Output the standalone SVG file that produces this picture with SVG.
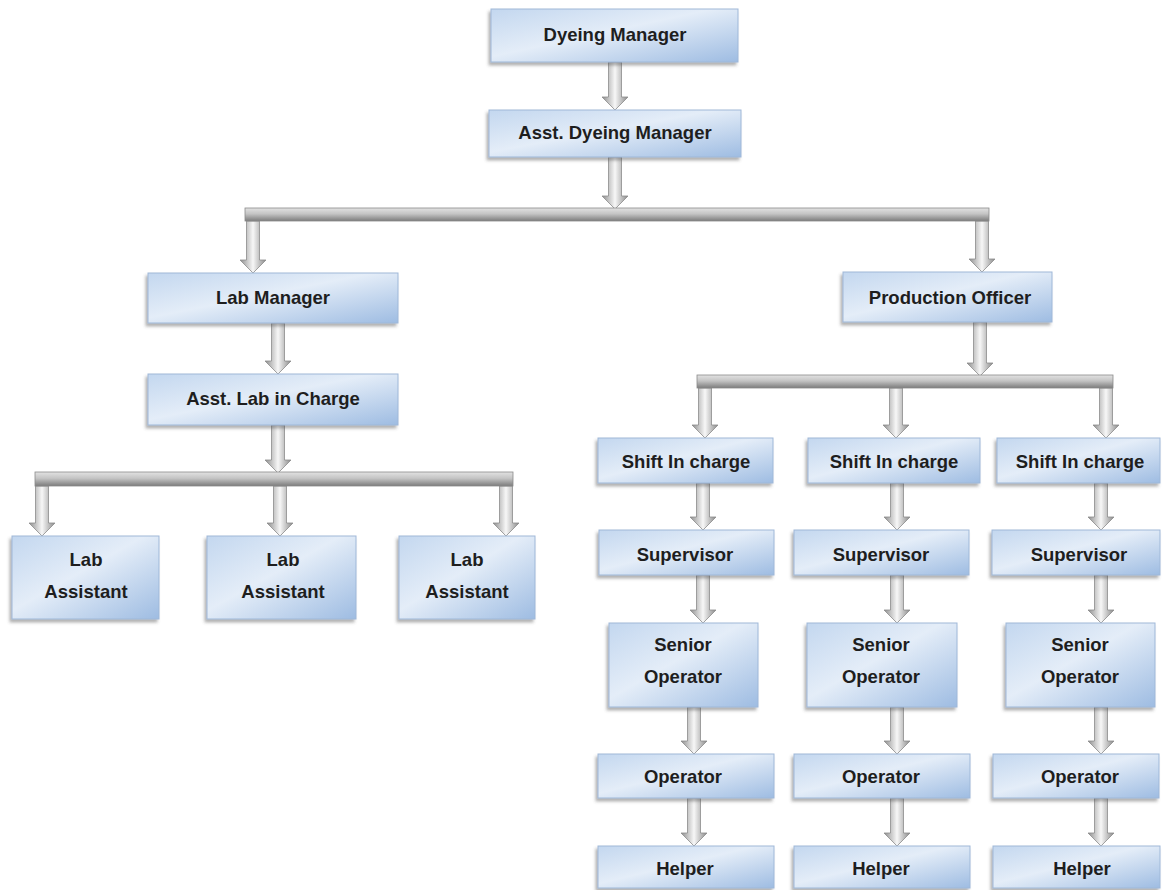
<svg xmlns="http://www.w3.org/2000/svg" width="1164" height="890" viewBox="0 0 1164 890">
  <style>
    .box { fill: url(#boxFill); stroke: #9fb8d8; stroke-width: 1; filter: url(#shadow); }
    .t { font-family: "Liberation Sans", Arial, sans-serif; font-weight: bold; font-size: 18.5px; text-anchor: middle; fill: #1e1e1e; }
    .arrow { fill: url(#arrowFill); stroke: #8c8c8c; stroke-width: 0.8; }
    .bar { fill: url(#barFill); stroke: #8a8a8a; stroke-width: 0.8; }
  </style>
  <defs>
    <linearGradient id="boxFill" x1="0" y1="0" x2="1" y2="1">
      <stop offset="0" stop-color="#c3d7ef"/>
      <stop offset="0.45" stop-color="#e4edf8"/>
      <stop offset="1" stop-color="#9ebce2"/>
    </linearGradient>
    <linearGradient id="arrowFill" x1="0" y1="0" x2="1" y2="0">
      <stop offset="0" stop-color="#8e8e8e"/>
      <stop offset="0.5" stop-color="#f7f7f7"/>
      <stop offset="1" stop-color="#8a8a8a"/>
    </linearGradient>
    <linearGradient id="barFill" x1="0" y1="0" x2="0" y2="1">
      <stop offset="0" stop-color="#e2e2e2"/>
      <stop offset="0.45" stop-color="#c4c4c4"/>
      <stop offset="1" stop-color="#7c7c7c"/>
    </linearGradient>
    <filter id="shadow" x="-10%" y="-20%" width="120%" height="150%">
      <feDropShadow dx="-2" dy="3" stdDeviation="1.8" flood-color="#555555" flood-opacity="0.45"/>
    </filter>
  </defs>

  <!-- connectors: block arrows and branch bars -->
  <g id="connectors">
    <path class="arrow" d="M608.5 62H621.5V97H628L615 110L602 97H608.5Z"/>
    <path class="arrow" d="M608.5 157H621.5V196H628L615 209L602 196H608.5Z"/>
    <path class="arrow" d="M246.5 221H259.5V260H266L253 273L240 260H246.5Z"/>
    <path class="arrow" d="M975.5 221H988.5V259H995L982 272L969 259H975.5Z"/>
    <path class="arrow" d="M271.5 323H284.5V361H291L278 374L265 361H271.5Z"/>
    <path class="arrow" d="M271.5 425H284.5V460H291L278 473L265 460H271.5Z"/>
    <path class="arrow" d="M35.5 486H48.5V523H55L42 536L29 523H35.5Z"/>
    <path class="arrow" d="M273.5 486H286.5V523H293L280 536L267 523H273.5Z"/>
    <path class="arrow" d="M499.5 486H512.5V523H519L506 536L493 523H499.5Z"/>
    <path class="arrow" d="M973.5 322H986.5V363H993L980 376L967 363H973.5Z"/>
    <path class="arrow" d="M698.5 388H711.5V425H718L705 438L692 425H698.5Z"/>
    <path class="arrow" d="M889.5 388H902.5V425H909L896 438L883 425H889.5Z"/>
    <path class="arrow" d="M1099.5 388H1112.5V425H1119L1106 438L1093 425H1099.5Z"/>

    <path class="arrow" d="M696.5 483H709.5V517H716L703 530L690 517H696.5Z"/>
    <path class="arrow" d="M890.5 483H903.5V517H910L897 530L884 517H890.5Z"/>
    <path class="arrow" d="M1094.5 483H1107.5V517H1114L1101 530L1088 517H1094.5Z"/>

    <path class="arrow" d="M696.5 575H709.5V610H716L703 623L690 610H696.5Z"/>
    <path class="arrow" d="M890.5 575H903.5V610H910L897 623L884 610H890.5Z"/>
    <path class="arrow" d="M1094.5 575H1107.5V610H1114L1101 623L1088 610H1094.5Z"/>

    <path class="arrow" d="M687.5 707H700.5V741H707L694 754L681 741H687.5Z"/>
    <path class="arrow" d="M890.5 707H903.5V741H910L897 754L884 741H890.5Z"/>
    <path class="arrow" d="M1094.5 707H1107.5V741H1114L1101 754L1088 741H1094.5Z"/>

    <path class="arrow" d="M687.5 798H700.5V833H707L694 846L681 833H687.5Z"/>
    <path class="arrow" d="M890.5 798H903.5V833H910L897 846L884 833H890.5Z"/>
    <path class="arrow" d="M1094.5 798H1107.5V833H1114L1101 846L1088 833H1094.5Z"/>

    <rect class="bar" x="245" y="208" width="744" height="13"/>
    <rect class="bar" x="35" y="472" width="478" height="14"/>
    <rect class="bar" x="697" y="375" width="416" height="13"/>
  </g>

  <g id="dyeing-manager">
    <rect class="box" x="491" y="9" width="247" height="53"/>
    <text class="t" x="615" y="41">Dyeing Manager</text>
  </g>
  <g id="asst-dyeing-manager">
    <rect class="box" x="489" y="110" width="252" height="47"/>
    <text class="t" x="615" y="139">Asst. Dyeing Manager</text>
  </g>
  <g id="lab-manager">
    <rect class="box" x="148" y="273" width="250" height="50"/>
    <text class="t" x="273" y="304">Lab Manager</text>
  </g>
  <g id="asst-lab-in-charge">
    <rect class="box" x="148" y="374" width="250" height="51"/>
    <text class="t" x="273" y="405">Asst. Lab in Charge</text>
  </g>
  <g id="production-officer">
    <rect class="box" x="843" y="272" width="209" height="50"/>
    <text class="t" x="950" y="304">Production Officer</text>
  </g>

  <g id="lab-assistant-1">
    <rect class="box" x="12" y="536" width="147" height="83"/>
    <text class="t" x="86" y="566">Lab</text>
    <text class="t" x="86" y="598">Assistant</text>
  </g>
  <g id="lab-assistant-2">
    <rect class="box" x="207" y="536" width="149" height="83"/>
    <text class="t" x="283" y="566">Lab</text>
    <text class="t" x="283" y="598">Assistant</text>
  </g>
  <g id="lab-assistant-3">
    <rect class="box" x="399" y="536" width="136" height="83"/>
    <text class="t" x="467" y="566">Lab</text>
    <text class="t" x="467" y="598">Assistant</text>
  </g>

  <g id="shift-in-charge-1">
    <rect class="box" x="598" y="438" width="175" height="45"/>
    <text class="t" x="686" y="468">Shift In charge</text>
  </g>
  <g id="shift-in-charge-2">
    <rect class="box" x="808" y="438" width="172" height="45"/>
    <text class="t" x="894" y="468">Shift In charge</text>
  </g>
  <g id="shift-in-charge-3">
    <rect class="box" x="997" y="438" width="163" height="45"/>
    <text class="t" x="1080" y="468">Shift In charge</text>
  </g>

  <g id="supervisor-1">
    <rect class="box" x="599" y="530" width="175" height="45"/>
    <text class="t" x="685" y="561">Supervisor</text>
  </g>
  <g id="supervisor-2">
    <rect class="box" x="794" y="530" width="175" height="45"/>
    <text class="t" x="881" y="561">Supervisor</text>
  </g>
  <g id="supervisor-3">
    <rect class="box" x="992" y="530" width="168" height="45"/>
    <text class="t" x="1079" y="561">Supervisor</text>
  </g>

  <g id="senior-operator-1">
    <rect class="box" x="609" y="623" width="149" height="84"/>
    <text class="t" x="683" y="651">Senior</text>
    <text class="t" x="683" y="683">Operator</text>
  </g>
  <g id="senior-operator-2">
    <rect class="box" x="807" y="623" width="150" height="84"/>
    <text class="t" x="881" y="651">Senior</text>
    <text class="t" x="881" y="683">Operator</text>
  </g>
  <g id="senior-operator-3">
    <rect class="box" x="1006" y="623" width="149" height="84"/>
    <text class="t" x="1080" y="651">Senior</text>
    <text class="t" x="1080" y="683">Operator</text>
  </g>

  <g id="operator-1">
    <rect class="box" x="598" y="754" width="176" height="44"/>
    <text class="t" x="683" y="783">Operator</text>
  </g>
  <g id="operator-2">
    <rect class="box" x="794" y="754" width="176" height="44"/>
    <text class="t" x="881" y="783">Operator</text>
  </g>
  <g id="operator-3">
    <rect class="box" x="993" y="754" width="166" height="44"/>
    <text class="t" x="1080" y="783">Operator</text>
  </g>

  <g id="helper-1">
    <rect class="box" x="598" y="846" width="176" height="42"/>
    <text class="t" x="685" y="875">Helper</text>
  </g>
  <g id="helper-2">
    <rect class="box" x="794" y="846" width="176" height="42"/>
    <text class="t" x="881" y="875">Helper</text>
  </g>
  <g id="helper-3">
    <rect class="box" x="993" y="846" width="167" height="42"/>
    <text class="t" x="1082" y="875">Helper</text>
  </g>
</svg>
